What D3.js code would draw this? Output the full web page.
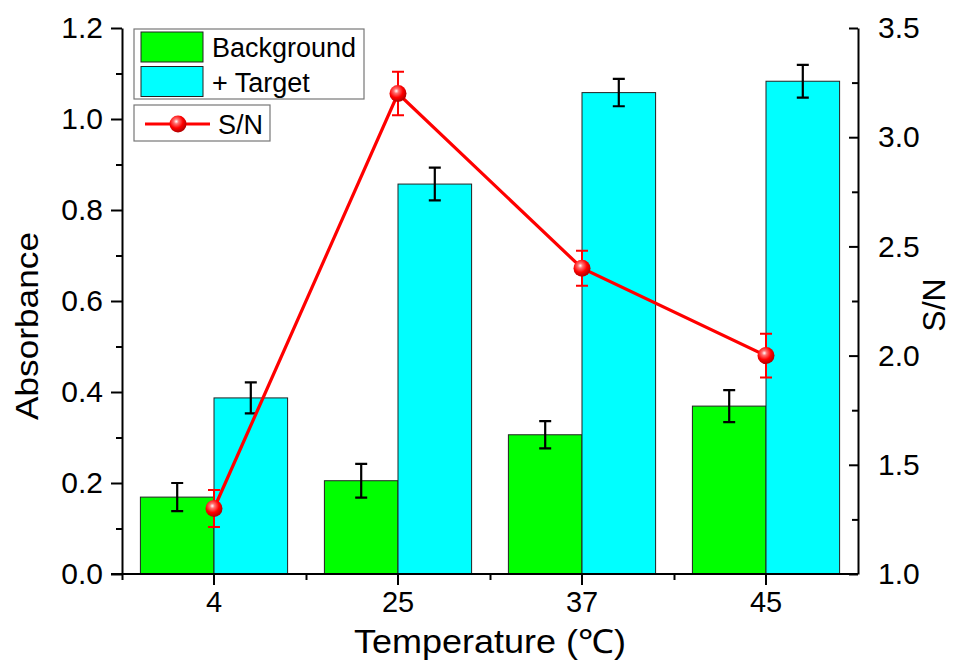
<!DOCTYPE html>
<meta charset="utf-8">
<head>
  <title>Absorbance and S/N vs temperature</title>
</head>

<style>
body {
  margin: 0;
  background: #fff;
}
text {
  font-family: "Liberation Sans", Arial, sans-serif;
  fill: #000;
}
</style>

<body>
  <div id="content"></div>

  <script src="https://cdnjs.cloudflare.com/ajax/libs/d3/7.8.5/d3.min.js"></script>

  <script>
// data
var temps = ['4', '25', '37', '45'];
var background = [0.169, 0.205, 0.306, 0.369];
var backgroundErr = [0.031, 0.037, 0.030, 0.035];
var target = [0.387, 0.857, 1.058, 1.083];
var targetErr = [0.034, 0.036, 0.030, 0.036];
var snRatio = [1.30, 3.20, 2.40, 2.00];
var snErr = [0.085, 0.10, 0.080, 0.10];

var leftTicks = [0, 0.2, 0.4, 0.6, 0.8, 1.0, 1.2];
var leftMinor = [0.1, 0.3, 0.5, 0.7, 0.9, 1.1];
var rightTicks = [1.0, 1.5, 2.0, 2.5, 3.0, 3.5];
var rightMinor = [1.25, 1.75, 2.25, 2.75, 3.25];

var width = 955, height = 661;
var plotL = 122, plotR = 858, plotT = 28, plotB = 574;

var svg = d3.select('#content').append('svg')
  .attr('width', width)
  .attr('height', height);

var x = d3.scaleBand()
  .domain(temps)
  .range([plotL, plotR])
  .paddingInner(0.2)
  .paddingOuter(0.1);

var xSub = d3.scaleBand()
  .domain(['bg', 'tg'])
  .range([0, x.bandwidth()]);

var xEdge = d3.scaleLinear().domain([0, temps.length]).range([plotL, plotR]);

var yL = d3.scaleLinear().domain([0, 1.2]).range([plotB, plotT]);
var yR = d3.scaleLinear().domain([1, 3.5]).range([plotB, plotT]);

// ball gradient
var grad = svg.append('defs').append('radialGradient')
  .attr('id', 'ball')
  .attr('cx', '40%').attr('cy', '35%').attr('r', '65%');
grad.append('stop').attr('offset', '0%').attr('stop-color', '#fff');
grad.append('stop').attr('offset', '22%').attr('stop-color', '#ff7070');
grad.append('stop').attr('offset', '60%').attr('stop-color', '#ff0000');
grad.append('stop').attr('offset', '100%').attr('stop-color', '#b00000');

// bars
var series = [
  {key: 'bg', vals: background, errs: backgroundErr, color: '#00ff00'},
  {key: 'tg', vals: target, errs: targetErr, color: '#00ffff'}
];

series.forEach(function(s) {
  var g = svg.append('g');
  g.selectAll('rect')
    .data(temps)
    .enter().append('rect')
      .attr('x', function(d) { return x(d) + xSub(s.key); })
      .attr('y', function(d, i) { return yL(s.vals[i]); })
      .attr('width', xSub.bandwidth())
      .attr('height', function(d, i) { return yL(0) - yL(s.vals[i]); })
      .attr('fill', s.color)
      .attr('stroke', '#222')
      .attr('stroke-width', 1);

  // error bars
  temps.forEach(function(d, i) {
    var cx = x(d) + xSub(s.key) + xSub.bandwidth() / 2;
    var y1 = yL(s.vals[i] + s.errs[i]), y2 = yL(s.vals[i] - s.errs[i]);
    var p = d3.path();
    p.moveTo(cx, y1); p.lineTo(cx, y2);
    p.moveTo(cx - 6, y1); p.lineTo(cx + 6, y1);
    p.moveTo(cx - 6, y2); p.lineTo(cx + 6, y2);
    g.append('path').attr('d', p.toString())
      .attr('stroke', '#000').attr('stroke-width', 2.2).attr('fill', 'none');
  });
});

// S/N line
var snX = function(d) { return x(d) + x.bandwidth() / 2; };
var line = d3.line()
  .x(function(d) { return snX(d); })
  .y(function(d, i) { return yR(snRatio[i]); });

svg.append('path')
  .datum(temps)
  .attr('d', line)
  .attr('fill', 'none')
  .attr('stroke', '#ff0000')
  .attr('stroke-width', 3.2);

temps.forEach(function(d, i) {
  var cx = snX(d);
  var y1 = yR(snRatio[i] + snErr[i]), y2 = yR(snRatio[i] - snErr[i]);
  var p = d3.path();
  p.moveTo(cx, y1); p.lineTo(cx, y2);
  p.moveTo(cx - 6, y1); p.lineTo(cx + 6, y1);
  p.moveTo(cx - 6, y2); p.lineTo(cx + 6, y2);
  svg.append('path').attr('d', p.toString())
    .attr('stroke', '#ff0000').attr('stroke-width', 2).attr('fill', 'none');
});

svg.append('g').selectAll('circle')
  .data(temps)
  .enter().append('circle')
    .attr('cx', snX)
    .attr('cy', function(d, i) { return yR(snRatio[i]); })
    .attr('r', 8.5)
    .attr('fill', 'url(#ball)');

// axes
function styleAxis(g, fontSize) {
  g.selectAll('path.domain').attr('stroke', '#000').attr('stroke-width', 2);
  g.selectAll('.tick line').attr('stroke', '#000').attr('stroke-width', 2);
  g.selectAll('.tick text')
    .attr('fill', '#000')
    .style('font-family', '"Liberation Sans", Arial, sans-serif')
    .style('font-size', fontSize + 'px');
}

var axL = svg.append('g')
  .attr('transform', 'translate(' + plotL + ',0)')
  .call(d3.axisLeft(yL).tickValues(leftTicks).tickFormat(d3.format('.1f'))
    .tickSize(11).tickSizeOuter(0).tickPadding(8));
styleAxis(axL, 30);
var axLm = svg.append('g')
  .attr('transform', 'translate(' + plotL + ',0)')
  .call(d3.axisLeft(yL).tickValues(leftMinor).tickFormat('').tickSize(6).tickSizeOuter(0));
styleAxis(axLm, 30);
axLm.select('path.domain').remove();

var axR = svg.append('g')
  .attr('transform', 'translate(' + plotR + ',0)')
  .call(d3.axisRight(yR).tickValues(rightTicks).tickFormat(d3.format('.1f'))
    .tickSize(-9).tickSizeOuter(0).tickPadding(20));
styleAxis(axR, 30);
var axRm = svg.append('g')
  .attr('transform', 'translate(' + plotR + ',0)')
  .call(d3.axisRight(yR).tickValues(rightMinor).tickFormat('').tickSize(-6).tickSizeOuter(0));
styleAxis(axRm, 30);
axRm.select('path.domain').remove();

var axB = svg.append('g')
  .attr('transform', 'translate(0,' + plotB + ')')
  .call(d3.axisBottom(x).tickSize(11).tickSizeOuter(0).tickPadding(6));
styleAxis(axB, 29);
axB.select('path.domain').attr('d', 'M' + (plotL - 11) + ',0H' + plotR);
var axBm = svg.append('g')
  .attr('transform', 'translate(0,' + plotB + ')')
  .call(d3.axisBottom(xEdge).tickValues([0, 1, 2, 3]).tickFormat('').tickSize(6).tickSizeOuter(0));
styleAxis(axBm, 29);
axBm.select('path.domain').remove();

// axis titles
svg.append('text')
  .attr('transform', 'translate(38,326) rotate(-90)')
  .attr('text-anchor', 'middle')
  .attr('textLength', 188)
  .attr('lengthAdjust', 'spacingAndGlyphs')
  .style('font-size', '32px')
  .text('Absorbance');

svg.append('text')
  .attr('transform', 'translate(945,305) rotate(-90)')
  .attr('text-anchor', 'middle')
  .style('font-size', '32px')
  .text('S/N');

svg.append('text')
  .attr('x', 490)
  .attr('y', 653)
  .attr('text-anchor', 'middle')
  .attr('textLength', 272)
  .attr('lengthAdjust', 'spacingAndGlyphs')
  .style('font-size', '33px')
  .text('Temperature (\u2103)');

// legend
var legend = svg.append('g');
legend.append('rect')
  .attr('x', 134).attr('y', 29).attr('width', 230).attr('height', 70)
  .attr('fill', '#fff').attr('stroke', '#777').attr('stroke-width', 1.2);
var legendItems = [
  {label: 'Background', color: '#00ff00'},
  {label: '+ Target', color: '#00ffff'}
];
legend.selectAll('rect.sw')
  .data(legendItems)
  .enter().append('rect')
    .attr('class', 'sw')
    .attr('x', 141)
    .attr('y', function(d, i) { return 32 + i * 34.5; })
    .attr('width', 62).attr('height', 30)
    .attr('fill', function(d) { return d.color; })
    .attr('stroke', '#222').attr('stroke-width', 1);
legend.selectAll('text.lb')
  .data(legendItems)
  .enter().append('text')
    .attr('class', 'lb')
    .attr('x', 212)
    .attr('y', function(d, i) { return 57 + i * 34.5; })
    .style('font-size', '27px')
    .text(function(d) { return d.label; });

legend.append('rect')
  .attr('x', 134).attr('y', 105).attr('width', 136).attr('height', 36)
  .attr('fill', '#fff').attr('stroke', '#777').attr('stroke-width', 1.2);
legend.append('line')
  .attr('x1', 145).attr('x2', 210).attr('y1', 124).attr('y2', 124)
  .attr('stroke', '#ff0000').attr('stroke-width', 3.2);
legend.append('circle')
  .attr('cx', 178).attr('cy', 124).attr('r', 8.5)
  .attr('fill', 'url(#ball)');
legend.append('text')
  .attr('x', 218).attr('y', 134)
  .style('font-size', '27px')
  .text('S/N');
  </script>
</body>
</html>
